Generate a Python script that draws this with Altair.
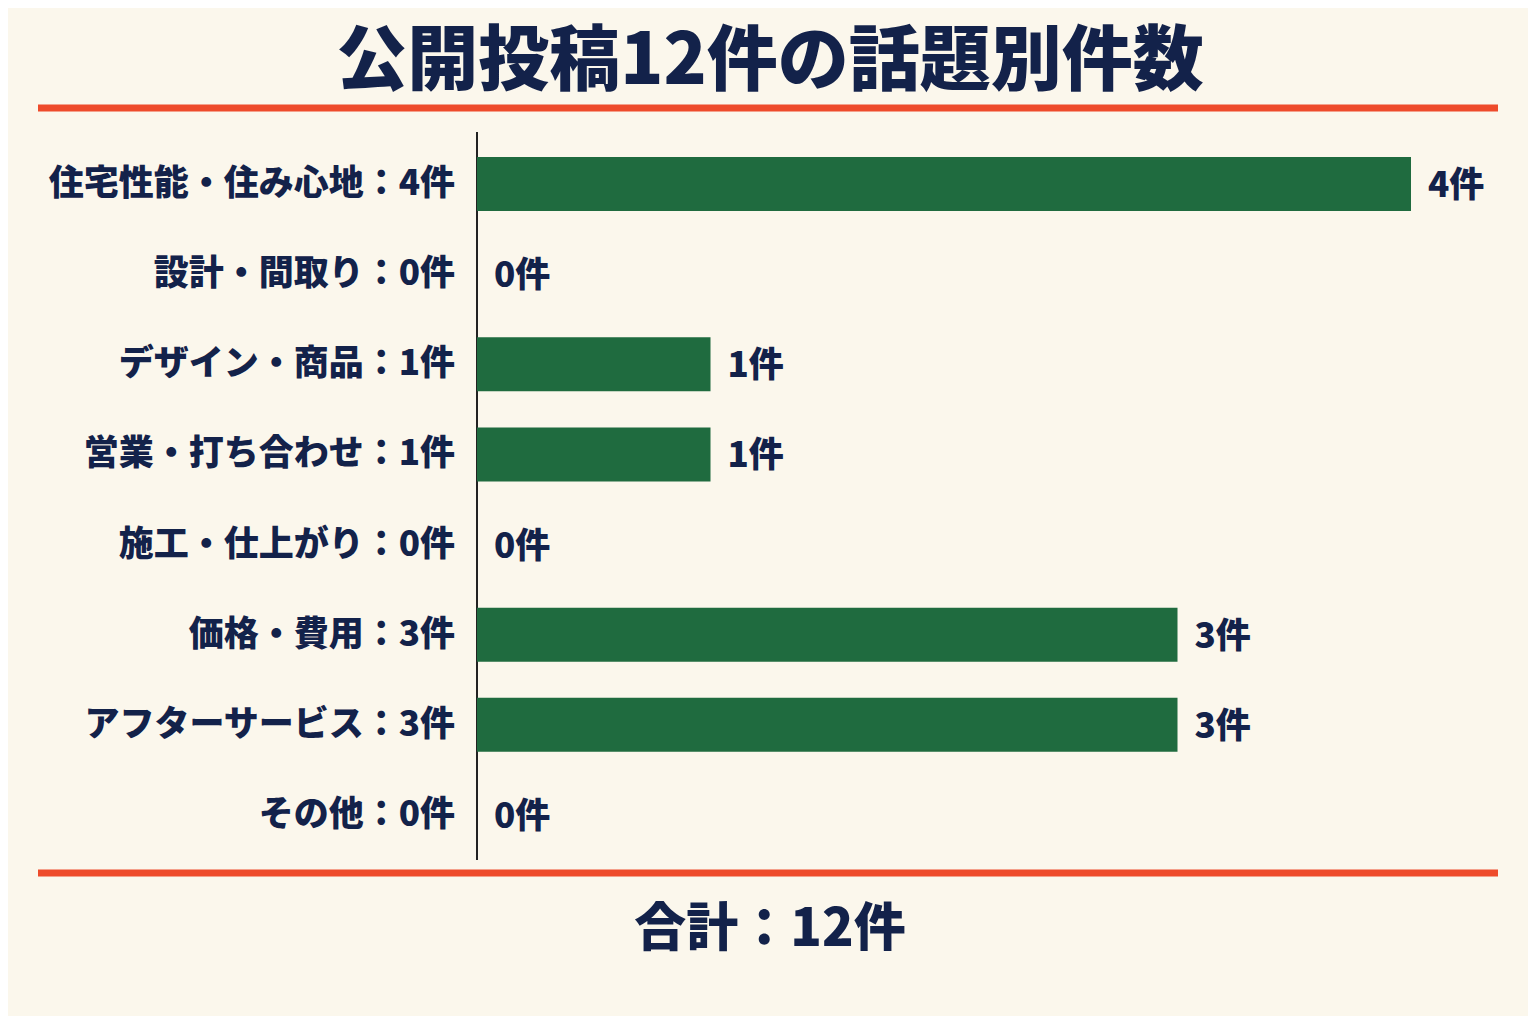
import altair as alt
import pandas as pd

title_text = "公開投稿12件の話題別件数"
categories = ["住宅性能・住み心地", "設計・間取り", "デザイン・商品", "営業・打ち合わせ",
              "施工・仕上がり", "価格・費用", "アフターサービス", "その他"]
counts = [4, 0, 1, 1, 0, 3, 3, 0]
total_label = "合計：12件"

df = pd.DataFrame({"cat": categories, "count": counts})
df["label"] = [f"{c}：{n}件" for c, n in zip(categories, counts)]
df["vlabel"] = [f"{n}件" for n in counts]

FONT = "Noto Sans CJK JP"
NAVY = "#13224a"
GREEN = "#1f6b3f"
RED = "#ee4b2b"
BG = "#fbf7ec"

xs = alt.Scale(domain=[0, 4], range=[469, 1403])
ys = alt.Scale(domain=categories, range=[131, 852], paddingInner=0.4, paddingOuter=0.2)

base = alt.Chart(df)

bars = base.mark_bar(color=GREEN).encode(
    x=alt.X("count:Q", scale=xs, axis=None),
    y=alt.Y("cat:N", scale=ys, axis=None, sort=categories),
)

vlabels = base.mark_text(align="left", baseline="middle", dx=17, dy=2, font=FONT,
                         fontSize=35, fontWeight=900, color=NAVY).encode(
    x=alt.X("count:Q", scale=xs, axis=None),
    y=alt.Y("cat:N", scale=ys, axis=None, sort=categories),
    text="vlabel:N",
)

clabels = base.mark_text(align="right", baseline="middle", font=FONT,
                         fontSize=35, fontWeight=900, color=NAVY).encode(
    x=alt.value(447),
    y=alt.Y("cat:N", scale=ys, axis=None, sort=categories),
    text="label:N",
)

one = pd.DataFrame({"t": [title_text], "s": [total_label]})

title = alt.Chart(one).mark_text(align="center", baseline="middle", font=FONT,
                                 fontSize=71, fontWeight=900, color=NAVY).encode(
    x=alt.value(762), y=alt.value(55), text="t:N")

total = alt.Chart(one).mark_text(align="center", baseline="middle", font=FONT,
                                 fontSize=52, fontWeight=900, color=NAVY).encode(
    x=alt.value(762), y=alt.value(922), text="s:N")

top_line = alt.Chart(one).mark_rule(color=RED, strokeWidth=7).encode(
    x=alt.value(30), x2=alt.value(1490), y=alt.value(100))
bot_line = alt.Chart(one).mark_rule(color=RED, strokeWidth=7).encode(
    x=alt.value(30), x2=alt.value(1490), y=alt.value(865))
axis_line = alt.Chart(one).mark_rule(color="#222222", strokeWidth=2).encode(
    x=alt.value(469), y=alt.value(124), y2=alt.value(852))

chart = alt.layer(top_line, bot_line, axis_line, bars, vlabels, clabels, title, total).properties(
    width=1520, height=1008,
    autosize=alt.AutoSizeParams(type="none"),
    padding=0,
    background=BG,
).configure_view(stroke=None)

chart.save("out.html", embed_options={"renderer": "svg", "actions": False})
